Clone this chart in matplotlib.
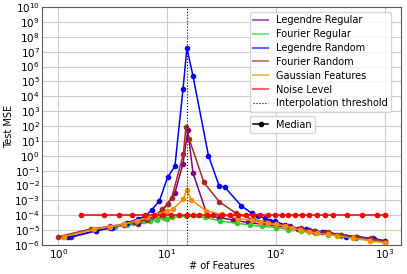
import numpy as np
import matplotlib
matplotlib.use('Agg')
import matplotlib.pyplot as plt
from matplotlib.lines import Line2D

# Legendre Regular
leg_reg_x = [1.3, 2.2, 3.0, 4.0, 5.4, 7.0, 8.5, 10.1, 11.8, 14.0, 15.5, 17.3, 23.5, 30, 40, 55, 75, 100, 140, 200, 280, 400, 560, 800, 1000]
leg_reg_y = [3.3e-6, 8.7e-6, 1.4e-5, 2.1e-5, 2.6e-5, 4.5e-5, 1.0e-4, 6e-4, 3.3e-3, 0.3, 50, 7e-2, 9e-5, 7e-5, 4.8e-5, 3.3e-5, 2.5e-5, 1.9e-5, 1.4e-5, 1.0e-5, 7e-6, 5e-6, 3.5e-6, 2.5e-6, 1.6e-6]

# Fourier Regular
fou_reg_x = [1.1, 2.1, 3.3, 4.3, 5.0, 6.1, 7.0, 8.0, 9.3, 10.0, 11.0, 15.0, 22.3, 30.6, 44, 58, 75, 100, 130, 170, 230, 300, 400, 550, 750, 1000]
fou_reg_y = [3.6e-6, 1.15e-5, 1.7e-5, 2.2e-5, 3.0e-5, 4.3e-5, 4.1e-5, 4.8e-5, 6.3e-5, 5.4e-5, 7.2e-5, 8.5e-5, 7.2e-5, 4.1e-5, 2.9e-5, 2.2e-5, 1.8e-5, 1.5e-5, 1.1e-5, 8.5e-6, 6.5e-6, 5e-6, 3.8e-6, 2.8e-6, 2.1e-6, 1.6e-6]

# Legendre Random
leg_rnd_x = [1.24, 2.2, 3.1, 4.3, 5.4, 6.3, 7.2, 8.5, 10.1, 11.8, 14.0, 15.2, 17.3, 24, 30, 34, 48, 60, 69, 79, 89, 98, 121, 136, 158, 188, 228, 268, 308, 365, 445, 550, 780, 1000]
leg_rnd_y = [3.2e-6, 9e-6, 1.5e-5, 3.2e-5, 5.4e-5, 9e-5, 2.2e-4, 9.5e-4, 3.5e-2, 2e-1, 3e4, 1.7e7, 2.3e5, 1.0, 1e-2, 7.5e-3, 4.4e-4, 1.35e-4, 9.3e-5, 6.3e-5, 4.3e-5, 4.1e-5, 2.2e-5, 1.9e-5, 1.2e-5, 1.15e-5, 8.7e-6, 7e-6, 6.2e-6, 4.7e-6, 3.6e-6, 3.6e-6, 2.8e-6, 1.95e-6]

# Fourier Random
fou_rnd_x = [1.0, 2.0, 3.0, 4.0, 5.0, 6.5, 8.0, 9.0, 10.1, 11.0, 14.1, 14.9, 16.0, 21.8, 30.2, 43, 62, 80, 100, 130, 170, 220, 300, 400, 550, 750, 1000]
fou_rnd_y = [3.6e-6, 1.2e-5, 1.8e-5, 2.5e-5, 3.5e-5, 5e-5, 1.1e-4, 2.5e-4, 5.8e-4, 1.4e-3, 1.3, 89, 12.5, 1.6e-2, 8e-4, 1.35e-4, 5e-5, 3.5e-5, 2.6e-5, 1.8e-5, 1.3e-5, 9e-6, 7e-6, 5e-6, 3.5e-6, 2.8e-6, 1.7e-6]

# Gaussian Features
gauss_x = [1.12, 2.15, 3.0, 4.0, 5.3, 6.5, 8.0, 9.9, 11.3, 14.1, 15.1, 16.7, 22.8, 31.8, 45, 60, 71, 85, 100, 120, 140, 166, 200, 239, 300, 362, 510, 734, 1000]
gauss_y = [3.6e-6, 1.15e-5, 1.7e-5, 2.45e-5, 4.3e-5, 7.2e-5, 1.05e-4, 1.85e-4, 2.6e-4, 1.2e-3, 5e-3, 1.07e-3, 2.0e-4, 1.15e-4, 6e-5, 4.5e-5, 3.7e-5, 3e-5, 2.5e-5, 1.8e-5, 1.4e-5, 1.0e-5, 8e-6, 6.2e-6, 5.2e-6, 4.3e-6, 2.8e-6, 1.95e-6, 1.4e-6]

# Noise level
noise_x = [1.63, 2.64, 3.6, 4.8, 6.2, 7.6, 9.2, 10.8, 12.8, 15.1, 17.4, 19.8, 23.4, 26.5, 31.8, 38, 45, 53, 62, 72, 84, 98, 113, 130, 149, 172, 201, 241, 282, 336, 447, 624, 857, 1000]
noise_y = [1e-4] * len(noise_x)

threshold = 15.1

series = [
    (leg_reg_x, leg_reg_y, 'purple', 'Legendre Regular'),
    (fou_reg_x, fou_reg_y, 'limegreen', 'Fourier Regular'),
    (leg_rnd_x, leg_rnd_y, 'blue', 'Legendre Random'),
    (fou_rnd_x, fou_rnd_y, 'brown', 'Fourier Random'),
    (gauss_x, gauss_y, 'darkorange', 'Gaussian Features'),
    (noise_x, noise_y, 'red', 'Noise Level'),
]

fig = plt.figure(figsize=(4.07, 2.74), dpi=100)
ax = fig.add_axes([42/407, 29/274, 359/407, 238/274])
ax.grid(True, color='#cccccc', linewidth=0.8)
ax.set_axisbelow(True)

for x, y, c, lab in series:
    ax.plot(x, y, color=c, marker='o', markersize=3, linewidth=1.1)
ax.axvline(threshold, color='k', linestyle=':', linewidth=0.8)

ax.set_xscale('log')
ax.set_yscale('log')
ax.set_ylim(1e-6, 1e10)
ax.set_yticks([10.0**k for k in range(-6, 11)])
ax.yaxis.set_minor_locator(matplotlib.ticker.NullLocator())
ax.xaxis.set_minor_locator(matplotlib.ticker.NullLocator())
ax.tick_params(labelsize=7.5, pad=1.5, length=0)
ax.set_xlabel('# of Features', fontsize=7, labelpad=0)
ax.set_ylabel('Test MSE', fontsize=7, labelpad=0)
for s in ax.spines.values():
    s.set_color('0.35')

handles = [Line2D([], [], color=c, alpha=0.6) for _, _, c, _ in series]
handles.append(Line2D([], [], color='k', linestyle=':', linewidth=0.8))
labels = [lab for _, _, _, lab in series] + ['Interpolation threshold']
leg1 = ax.legend(handles, labels, loc='upper left', fontsize=7, handlelength=1.6,
                 bbox_to_anchor=(0.578, 0.98), borderaxespad=0, labelspacing=0.4,
                 borderpad=0.35)
ax.add_artist(leg1)
med = Line2D([], [], color='k', marker='o', markersize=3, linewidth=1.1)
ax.legend([med], ['Median'], loc='upper left', fontsize=7, handlelength=1.6,
          bbox_to_anchor=(0.578, 0.54), borderaxespad=0, borderpad=0.35)

fig.savefig('out.png', dpi=100)
